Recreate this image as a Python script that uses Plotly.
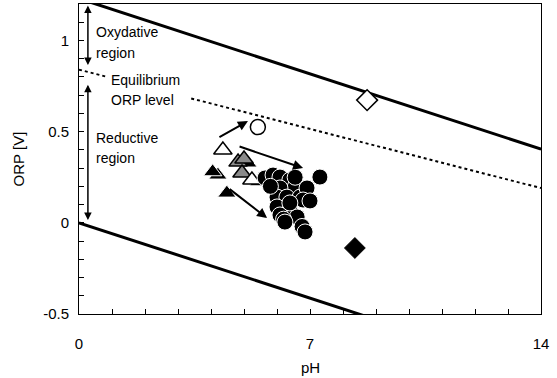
import plotly.graph_objects as go

# Boundary lines (pH, ORP)
ph_bound = [0, 14]
orp_upper = [1.23, 1.23 - 0.059 * 14]
orp_lower = [0.0, -0.059 * 14]
eq_ph_a = [0, 0.85]
eq_orp_a = [0.84, 0.84 - 0.0464 * 0.85]
eq_ph_b = [3.4, 14]
eq_orp_b = [0.84 - 0.0464 * 3.4, 0.84 - 0.0464 * 14]

circ_ph = [5.64, 5.88, 6.09, 6.39, 6.55, 6.09, 6.00, 6.30, 6.70, 6.91, 7.30, 6.00, 6.39,
           6.09, 6.61, 6.76, 6.79, 6.39, 5.80, 6.55, 7.00, 6.20, 6.24, 6.85]
circ_orp = [0.246, 0.262, 0.251, 0.235, 0.196, 0.191, 0.141, 0.141, 0.141, 0.191, 0.251,
            0.087, 0.070, 0.043, 0.032, -0.020, 0.125, 0.109, 0.200, 0.250, 0.120, 0.020,
            0.004, -0.050]

tri_black_ph = [4.21, 4.48, 5.12, 5.45, 4.05]
tri_black_orp = [0.262, 0.163, 0.328, 0.225, 0.280]
tri_open_ph = [4.36, 5.24]
tri_open_orp = [0.399, 0.235]
tri_hatch_ph = [4.82, 4.94, 5.00]
tri_hatch_orp = [0.333, 0.273, 0.350]

open_circle = ([5.42], [0.525])
open_diamond = ([8.73], [0.673])
filled_diamond = ([8.36], [-0.138])

# arrows: (tail_ph, tail_orp, head_ph, head_orp)
arrows = [(4.21, 0.465, 5.12, 0.558), (4.82, 0.421, 6.79, 0.300), (4.52, 0.191, 5.70, 0.026)]

region_texts = [("Oxydative", 0.45, 1.046), ("region", 0.45, 0.931),
                ("Equilibrium", 0.92, 0.783), ("ORP level", 0.92, 0.673),
                ("Reductive", 0.45, 0.465), ("region", 0.45, 0.355)]

font = "Liberation Sans, Arial, sans-serif"
fig = go.Figure()
fig.add_trace(go.Scatter(x=ph_bound, y=orp_upper, mode="lines", line=dict(color="black", width=3)))
fig.add_trace(go.Scatter(x=ph_bound, y=orp_lower, mode="lines", line=dict(color="black", width=3)))
for xs, ys in [(eq_ph_a, eq_orp_a), (eq_ph_b, eq_orp_b)]:
    fig.add_trace(go.Scatter(x=xs, y=ys, mode="lines", line=dict(color="black", width=2, dash="dot")))

fig.add_trace(go.Scatter(x=tri_black_ph, y=tri_black_orp, mode="markers",
                         marker=dict(symbol="triangle-up", size=16, color="black", line=dict(color="white", width=1))))
fig.add_trace(go.Scatter(x=tri_hatch_ph, y=tri_hatch_orp, mode="markers",
                         marker=dict(symbol="triangle-up", size=16, color="#8a8a8a", line=dict(color="black", width=1.5))))
fig.add_trace(go.Scatter(x=tri_open_ph, y=tri_open_orp, mode="markers",
                         marker=dict(symbol="triangle-up", size=16, color="white", line=dict(color="black", width=1.5))))
fig.add_trace(go.Scatter(x=circ_ph, y=circ_orp, mode="markers",
                         marker=dict(symbol="circle", size=16, color="black", line=dict(color="white", width=1))))
fig.add_trace(go.Scatter(x=open_circle[0], y=open_circle[1], mode="markers",
                         marker=dict(symbol="circle", size=15, color="white", line=dict(color="black", width=1.5))))
fig.add_trace(go.Scatter(x=open_diamond[0], y=open_diamond[1], mode="markers",
                         marker=dict(symbol="diamond", size=16, color="white", line=dict(color="black", width=1.5))))
fig.add_trace(go.Scatter(x=filled_diamond[0], y=filled_diamond[1], mode="markers",
                         marker=dict(symbol="diamond", size=16, color="black", line=dict(color="black", width=1))))

ann = []
for tx, ty, hx, hy in arrows:
    ann.append(dict(x=hx, y=hy, ax=tx, ay=ty, xref="x", yref="y", axref="x", ayref="y",
                    text="", showarrow=True, arrowhead=2, arrowsize=1, arrowwidth=2, arrowcolor="black"))
# region double arrows
for y0, y1 in [(1.2, 0.865), (0.766, 0.015)]:
    ann.append(dict(x=0.27, y=y1, ax=0.27, ay=y0, xref="x", yref="y", axref="x", ayref="y",
                    text="", showarrow=True, arrowhead=2, startarrowhead=2, arrowside="end+start",
                    arrowsize=1, arrowwidth=1.5, arrowcolor="black"))
for t, x, y in region_texts:
    ann.append(dict(x=x, y=y, xref="x", yref="y", text=t, showarrow=False, xanchor="left",
                    yanchor="middle", font=dict(family=font, size=14, color="black")))
ann.append(dict(x=0.5, y=-0.174, xref="paper", yref="paper", text="pH", showarrow=False,
                yanchor="middle", font=dict(family=font, size=15, color="black")))

fig.update_layout(
    width=557, height=378, margin=dict(l=79, r=16, t=4, b=64),
    paper_bgcolor="white", plot_bgcolor="white", showlegend=False,
    annotations=ann, font=dict(family=font, size=14, color="black"),
)
fig.update_xaxes(range=[0, 14], tickmode="array", tickvals=[0, 7, 14], ticktext=["0", "7", "14"],
                 ticks="inside", ticklen=5, tickcolor="black", showline=True, linecolor="black",
                 linewidth=1, mirror=True, showgrid=False, zeroline=False,
                 tickfont=dict(family=font, size=15, color="black"), ticklabelstandoff=16,
                 minor=dict(tickmode="array", tickvals=list(range(1, 14)), ticks="inside",
                            ticklen=5, tickcolor="black", showgrid=False))
fig.update_yaxes(range=[-0.5, 1.2], tickmode="array", tickvals=[-0.5, 0, 0.5, 1],
                 ticktext=["-0.5", "0", "0.5", "1"], ticks="inside", ticklen=5, tickcolor="black",
                 showline=True, linecolor="black", linewidth=1, mirror=True, showgrid=False,
                 zeroline=False, tickfont=dict(family=font, size=15, color="black"), ticklabelstandoff=6,
                 title=dict(text="ORP [V]", font=dict(family=font, size=15, color="black"), standoff=14),
                 minor=dict(tickmode="array", tickvals=[round(-0.4 + 0.1 * i, 1) for i in range(16)],
                            ticks="inside", ticklen=5, tickcolor="black", showgrid=False))

fig.write_html("out.html")
